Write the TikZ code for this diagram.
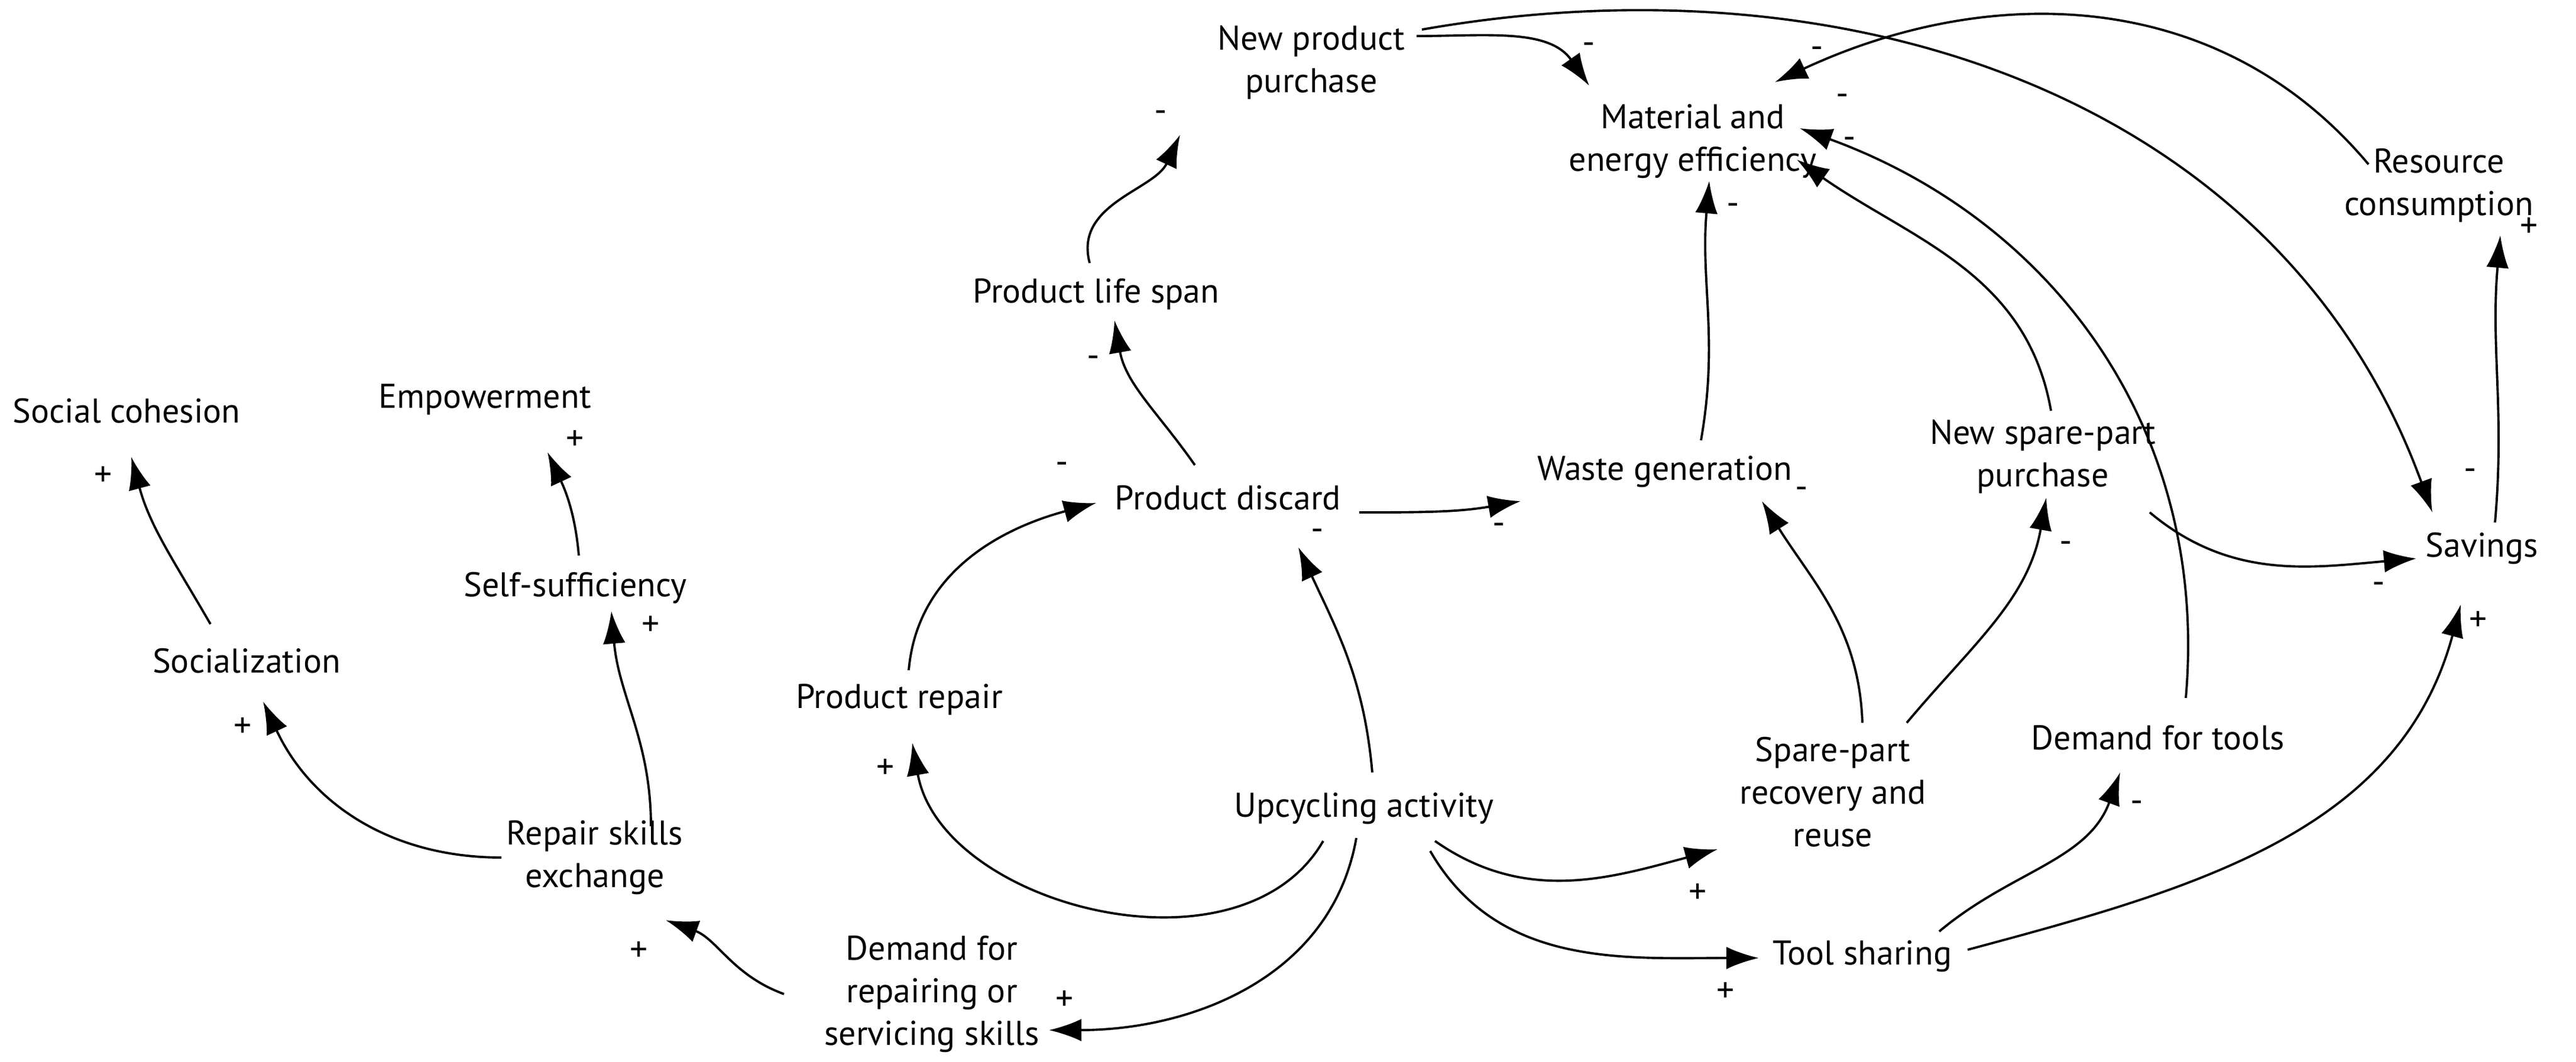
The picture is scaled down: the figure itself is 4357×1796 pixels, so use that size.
\documentclass[tikz,border=0pt]{standalone}
\usepackage{fontspec}
\setmainfont{PT Sans}
\usetikzlibrary{arrows.meta,calc}
\begin{document}
\begin{tikzpicture}[x=0.01cm,y=-0.01cm,
  v/.style={align=center,inner sep=6pt,font=\fontsize{16.5}{20.5}\selectfont},
  s/.style={font=\fontsize{17}{21}\selectfont,inner sep=0pt},
  e/.style={line width=1.1pt,-{Latex[length=5.5mm,width=3.8mm]}}]
\useasboundingbox (0,0) rectangle (4357,1796);
\node[v] (sc) at (214,695) {Social cohesion};
\node[v] (emp) at (820,676) {Empowerment};
\node[v] (ss) at (973,995) {Self-sufficiency};
\node[v] (soc) at (417,1118) {Socialization};
\node[v] (rse) at (1006,1451) {Repair skills\\exchange};
\node[v] (drs) at (1576,1682) {Demand for\\repairing or\\servicing skills};
\node[v] (pr) at (1521,1184) {Product repair};
\node[v] (ua) at (2307,1368) {Upcycling activity};
\node[v] (pd) at (2077,842) {Product discard};
\node[v] (pls) at (1854,498) {Product life span};
\node[v] (npp) at (2218,106) {New product\\purchase};
\node[v] (mee) at (2863,239) {Material and\\energy efficiency};
\node[v] (wg) at (2816,798) {Waste generation};
\node[v] (nsp) at (3455,773) {New spare-part\\purchase};
\node[v] (rc) at (4125,314) {Resource\\consumption};
\node[v] (sav) at (4198,928) {Savings};
\node[v] (dt) at (3650,1248) {Demand for tools};
\node[v] (spr) at (3100,1340) {Spare-part\\recovery and\\reuse};
\node[v] (ts) at (3150,1618) {Tool sharing};

\draw[e] ($(soc)+(-61,-62)$) to[out=120,in=-75] ($(sc)+(8,78)$);
\draw[e] ($(ss)+(6,-55)$) to[out=95,in=-65] ($(emp)+(106,89)$);
\draw[e] ($(rse)+(-158,0)$) to[out=180,in=-65] ($(soc)+(28,69)$);
\draw[e] ($(rse)+(95,-53)$) to[out=90,in=-85] ($(ss)+(61,39)$);
\draw[e] ($(drs)+(-250,0)$) to[out=160,in=-20] ($(rse)+(120,106)$);
\draw[e] ($(ua)+(-13,50)$) to[out=-100,in=0] ($(drs)+(198,61)$);
\draw[e] ($(ua)+(-69,55)$) to[out=-120,in=-80] ($(pr)+(22,73)$);
\draw[e] ($(pr)+(16,-50)$) to[out=85,in=195] ($(pd)+(-223,9)$);
\draw[e] ($(ua)+(14,-61)$) to[out=95,in=-65] ($(pd)+(119,84)$);
\draw[e] ($(pd)+(-56,-55)$) to[out=125,in=-80] ($(pls)+(31,44)$);
\draw[e] ($(pls)+(-11,-53)$) to[out=105,in=-115] ($(npp)+(-222,122)$);
\draw[e] ($(npp)+(178,-45)$) to[out=0,in=125] ($(mee)+(-175,-94)$);
\draw[e] ($(npp)+(187,-56)$) to[out=10,in=110] ($(sav)+(-84,-61)$);
\draw[e] ($(rc)+(-119,-36)$) to[out=130,in=25] ($(mee)+(139,-100)$);
\draw[e] ($(sav)+(22,-44)$) to[out=85,in=-95] ($(rc)+(104,84)$);
\draw[e] ($(pd)+(222,25)$) to[out=0,in=190] ($(wg)+(-244,50)$);
\draw[e] ($(wg)+(61,-53)$) to[out=80,in=-95] ($(mee)+(28,67)$);
\draw[e] ($(spr)+(50,-117)$) to[out=92,in=-58] ($(wg)+(164,50)$);
\draw[e] ($(spr)+(125,-117)$) to[out=50,in=-100] ($(nsp)+(6,69)$);
\draw[e] ($(nsp)+(14,-78)$) to[out=100,in=-35] ($(mee)+(176,31)$);
\draw[e] ($(dt)+(47,-67)$) to[out=85,in=-20] ($(mee)+(181,-22)$);
\draw[e] ($(nsp)+(181,94)$) to[out=-40,in=185] ($(sav)+(-111,17)$);
\draw[e] ($(ua)+(120,55)$) to[out=-35,in=195] ($(spr)+(-195,97)$);
\draw[e] ($(ua)+(112,72)$) to[out=-60,in=180] ($(ts)+(-175,3)$);
\draw[e] ($(ts)+(130,-42)$) to[out=40,in=-110] ($(dt)+(-64,59)$);
\draw[e] ($(ts)+(178,-11)$) to[out=15,in=-105] ($(sav)+(-36,95)$);

\node[s] at (175,806) {+};
\node[s] at (973,745) {+};
\node[s] at (411,1231) {+};
\node[s] at (1101,1059) {+};
\node[s] at (1081,1610) {+};
\node[s] at (1801,1693) {+};
\node[s] at (1498,1301) {+};
\node[s] at (1796,792) {-};
\node[s] at (2228,905) {-};
\node[s] at (1849,612) {-};
\node[s] at (1963,197) {-};
\node[s] at (2687,82) {-};
\node[s] at (4178,803) {-};
\node[s] at (3073,89) {-};
\node[s] at (4278,385) {+};
\node[s] at (2535,895) {-};
\node[s] at (2931,354) {-};
\node[s] at (3047,834) {-};
\node[s] at (3494,926) {-};
\node[s] at (3128,242) {-};
\node[s] at (3116,169) {-};
\node[s] at (4023,995) {-};
\node[s] at (2872,1512) {+};
\node[s] at (2919,1679) {+};
\node[s] at (3614,1365) {-};
\node[s] at (4192,1051) {+};
\end{tikzpicture}
\end{document}
